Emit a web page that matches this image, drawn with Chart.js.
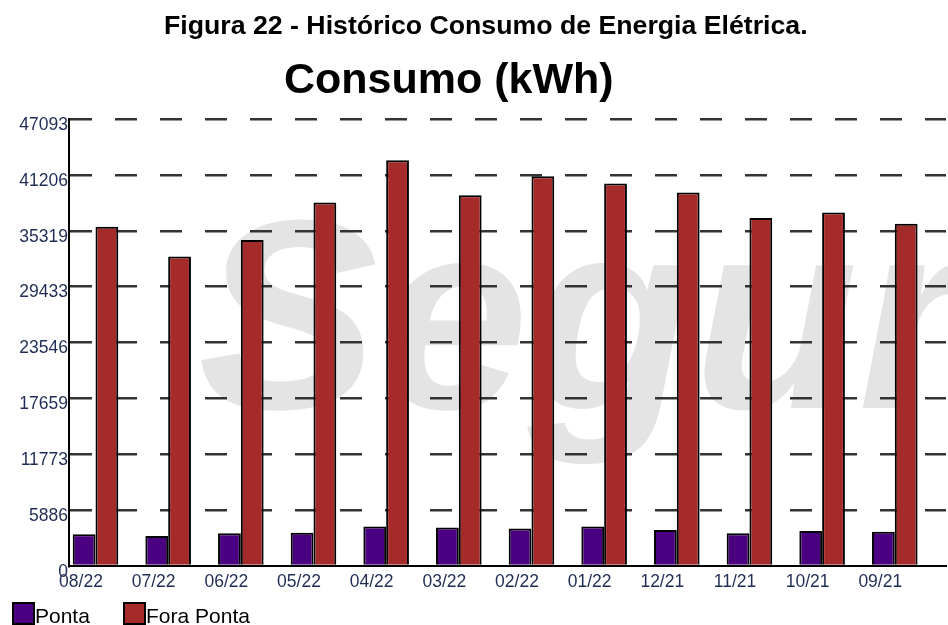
<!DOCTYPE html>
<html>
<head>
<meta charset="utf-8">
<script src="https://cdn.jsdelivr.net/npm/chart.js@4.4.1/dist/chart.umd.min.js"></script>
<style>
  html, body { margin: 0; padding: 0; background: #fff; }
  #wrap { position: relative; width: 948px; height: 625px; overflow: hidden;
          font-family: 'Liberation Sans', Arial, sans-serif; }
  #wrap canvas { position: absolute; left: 0; top: 0; }
  .txt { position: absolute; white-space: nowrap; line-height: 1; color: #000; }
  #caption { left: 164px; top: 12.4px; font-size: 26.7px; font-weight: bold; }
  #heading { left: 284px; top: 56.6px; font-size: 43px; font-weight: bold; }
  .key { position: absolute; top: 602px; width: 23px; height: 23px;
         box-sizing: border-box; border: 2px solid #000; }
  .keytxt { position: absolute; top: 605.2px; font-size: 21px; line-height: 1; color: #000; white-space: nowrap; }
</style>
</head>
<body>
<div id="wrap">
  <canvas id="c" width="948" height="625"></canvas>
  <div id="caption" class="txt">Figura 22 - Histórico Consumo de Energia Elétrica.</div>
  <div id="heading" class="txt">Consumo (kWh)</div>
  <div id="legend"></div>
</div>
<script>
// Monthly energy consumption (kWh), most recent month first
const months = ['08/22', '07/22', '06/22', '05/22', '04/22', '03/22', '02/22', '01/22', '12/21', '11/21', '10/21', '09/21'];
const ponta = [3350, 3150, 3450, 3500, 4150, 4050, 3950, 4150, 3800, 3450, 3700, 3600];
const foraPonta = [35750, 32600, 34350, 38300, 42750, 39050, 41050, 40300, 39350, 36650, 37250, 36050];
const seriesNames = ['Ponta', 'Fora Ponta'];
const yTicks = [0, 5886, 11773, 17659, 23546, 29433, 35319, 41206, 47093];

const FONT = "'Liberation Sans', Arial, sans-serif";
const LABEL_COLOR = '#1f2d55';

// Large faint background lettering behind the plot
const watermark = {
  id: 'watermark',
  beforeDraw(chart) {
    const ctx = chart.ctx;
    ctx.save();
    ctx.fillStyle = '#fff';
    ctx.fillRect(0, 0, chart.width, chart.height);
    ctx.font = 'italic bold 270px ' + FONT;
    ctx.fillStyle = '#e4e4e4';
    ctx.textBaseline = 'alphabetic';
    ctx.fillText('Segur', 198, 408);
    ctx.restore();
  }
};

const toPoints = arr => arr.map((v, i) => ({ x: i, y: v }));

const chart = new Chart(document.getElementById('c'), {
  type: 'bar',
  data: {
    datasets: [
      { label: seriesNames[0], data: toPoints(ponta), backgroundColor: '#4B0082', borderColor: '#000', borderWidth: 2 },
      { label: seriesNames[1], data: toPoints(foraPonta), backgroundColor: '#A52A2A', borderColor: '#000', borderWidth: 2 },
      // empty slot so each pair sits on the left part of its month
      { label: '', data: months.map((m, i) => ({ x: i, y: null })), backgroundColor: 'transparent', borderWidth: 0 }
    ]
  },
  options: {
    responsive: false,
    animation: false,
    devicePixelRatio: 1,
    datasets: { bar: { categoryPercentage: 0.941, barPercentage: 1 } },
    layout: { padding: { left: 0, right: 2, top: 119, bottom: 0 } },
    plugins: { legend: { display: false }, tooltip: { enabled: false }, title: { display: false } },
    scales: {
      x: {
        type: 'linear',
        offset: false,
        min: -0.5216,
        max: 11.548,
        grid: { display: false },
        border: { display: true, color: '#000', width: 2 },
        afterBuildTicks: s => { s.ticks = months.map((m, i) => ({ value: i })); },
        afterFit: s => { s.height = 59; },
        ticks: {
          autoSkip: false, maxRotation: 0, padding: -2, labelOffset: -25.9,
          color: LABEL_COLOR, font: { size: 17.5, family: FONT },
          callback: v => months[v]
        }
      },
      y: {
        min: 0,
        max: 47093,
        afterBuildTicks: s => { s.ticks = yTicks.map(v => ({ value: v })); },
        afterFit: s => { s.width = 69; },
        grid: {
          drawTicks: false, lineWidth: 2.5,
          color: c => (c.tick && c.tick.value === 0) ? 'transparent' : '#333'
        },
        border: { display: true, color: '#000', width: 2, dash: [22, 23] },
        ticks: {
          padding: 1, labelOffset: 6,
          color: LABEL_COLOR, font: { size: 17.5, family: FONT },
          callback: v => String(v)
        }
      }
    }
  },
  plugins: [watermark]
});

// Legend keys built from the chart's own datasets
const keyLeft = [12, 123];
const legend = document.getElementById('legend');
chart.data.datasets.slice(0, seriesNames.length).forEach((ds, i) => {
  const box = document.createElement('div');
  box.className = 'key';
  box.style.left = keyLeft[i] + 'px';
  box.style.background = ds.backgroundColor;
  legend.appendChild(box);
  const t = document.createElement('div');
  t.className = 'keytxt';
  t.style.left = (keyLeft[i] + 23) + 'px';
  t.textContent = ds.label;
  legend.appendChild(t);
});
</script>
</body>
</html>
